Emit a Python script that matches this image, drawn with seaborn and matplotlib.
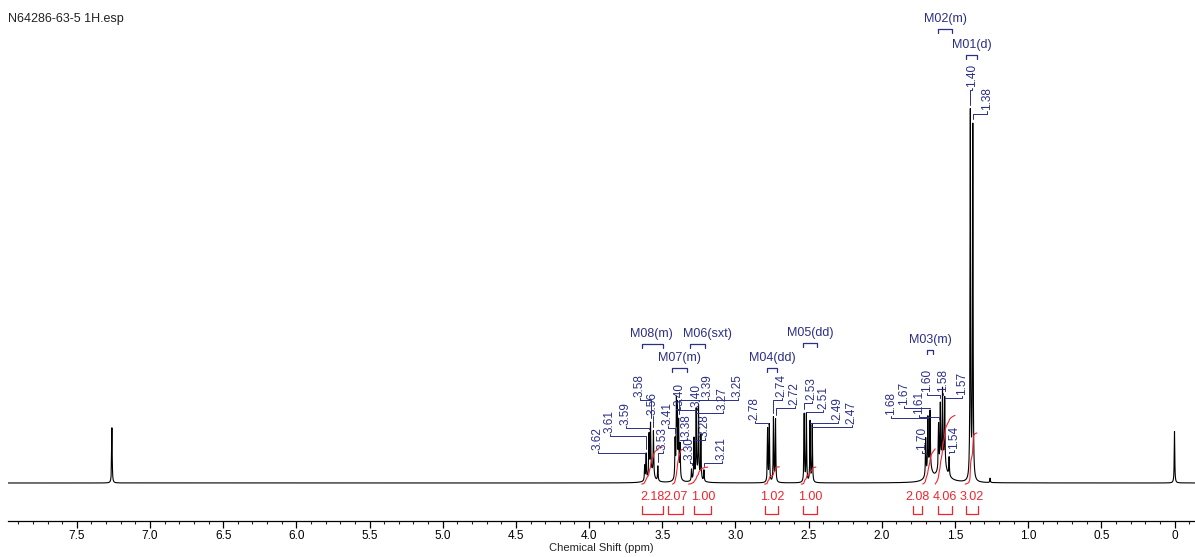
import numpy as np
import pandas as pd
import matplotlib.pyplot as plt
import seaborn as sns

sns.set_theme(style="white")
plt.rcParams["font.family"] = ["Liberation Sans", "DejaVu Sans"]

# peak list (ppm, relative height; tallest line = 100)
peak_ppm = [7.26,
            3.62, 3.61, 3.59, 3.58, 3.56, 3.53,
            3.412, 3.403, 3.397, 3.388, 3.378,
            3.30, 3.283, 3.268, 3.252, 3.236, 3.215,
            2.780, 2.768, 2.740, 2.726,
            2.530, 2.515, 2.490, 2.475,
            1.700, 1.685, 1.670, 1.612, 1.600, 1.585, 1.570, 1.540,
            1.395, 1.378, 1.26, 0.00]
peak_height = [15,
               4, 7, 11, 13, 12, 4,
               10, 19, 17, 14, 9,
               3, 11, 18, 19, 12, 3,
               14.5, 15.5, 17.5, 17,
               18.5, 18.5, 16.5, 15.5,
               10, 14, 15, 12, 16, 19, 18, 5,
               100, 96, 1.2, 14]
# broad underlying humps of the multiplets
hump_ppm = [3.575, 3.395, 3.26, 1.675, 1.585]
hump_height = [3, 2, 2, 4, 6]
hump_width = [0.02, 0.015, 0.02, 0.02, 0.03]

# peak picking labels
label_text = ["3.62", "3.61", "3.59", "3.58", "3.56", "3.53",
              "3.41", "3.40", "3.38", "3.30", "3.40", "3.39", "3.28", "3.27", "3.25", "3.21",
              "2.78", "2.74", "2.72", "2.53", "2.51", "2.49", "2.47",
              "1.68", "1.67", "1.61", "1.60", "1.58", "1.57", "1.70", "1.54",
              "1.40", "1.38"]
label_peak = [3.62, 3.61, 3.59, 3.58, 3.56, 3.53,
              3.412, 3.403, 3.378, 3.30, 3.397, 3.388, 3.283, 3.268, 3.252, 3.215,
              2.780, 2.740, 2.726, 2.530, 2.515, 2.490, 2.475,
              1.685, 1.670, 1.612, 1.600, 1.585, 1.570, 1.700, 1.540,
              1.395, 1.378]
# label layout (ppm of text, bottom of text in height units)
label_x = [3.941, 3.858, 3.749, 3.653, 3.565, 3.497,
           3.462, 3.380, 3.332, 3.312, 3.264, 3.189, 3.209, 3.086, 2.984, 3.093,
           2.868, 2.683, 2.594, 2.478, 2.402, 2.300, 2.204,
           1.938, 1.845, 1.745, 1.692, 1.582, 1.453, 1.726, 1.507,
           1.384, 1.282]
label_y = [9.0, 13.6, 15.8, 23.4, 18.5, 9.0,
           15.8, 20.9, 12.5, 6.3, 20.6, 23.4, 12.5, 19.8, 23.4, 6.3,
           17.1, 23.4, 21.2, 22.6, 20.1, 17.1, 16.0,
           18.5, 21.2, 18.7, 24.7, 24.7, 23.9, 9.0, 9.2,
           107.6, 101.3]

# multiplet annotations
mult_name = ["M02(m)", "M01(d)", "M08(m)", "M06(sxt)", "M07(m)", "M04(dd)", "M05(dd)", "M03(m)"]
mult_x = [1.568, 1.384, 3.571, 3.189, 3.380, 2.751, 2.491, 1.671]
mult_y = [126.1, 119.0, 40.5, 40.5, 34.0, 34.0, 40.8, 38.9]
mult_from = [1.616, 1.425, 3.640, 3.312, 3.435, 2.785, 2.539, 1.692]
mult_to = [1.521, 1.350, 3.497, 3.209, 3.332, 2.717, 2.443, 1.651]

# integrals
integ_value = [2.18, 2.07, 1.00, 1.02, 1.00, 2.08, 4.06, 3.02]
integ_from = [3.64, 3.43, 3.32, 2.80, 2.55, 1.72, 1.635, 1.43]
integ_to = [3.50, 3.355, 3.19, 2.70, 2.45, 1.635, 1.50, 1.35]
integ_label_x = [3.565, 3.407, 3.223, 2.751, 2.491, 1.753, 1.568, 1.384]
integ_half = [0.072, 0.051, 0.058, 0.045, 0.048, 0.031, 0.051, 0.038]

navy = "#2b2f86"
red = "#f0242c"

ppm = np.linspace(-0.14, 7.97, 40551)
w = 0.0022
spec = np.zeros_like(ppm)
for p, h in zip(peak_ppm, peak_height):
    spec += h * w**2 / ((ppm - p) ** 2 + w**2)
for p, h, hw in zip(hump_ppm, hump_height, hump_width):
    spec += h * hw**2 / ((ppm - p) ** 2 + hw**2)
df = pd.DataFrame({"ppm": ppm, "intensity": spec})

fig = plt.figure(figsize=(11.95, 5.57), dpi=100)
ax = fig.add_axes([8 / 1195, 36 / 557, 1187 / 1195, 521 / 557])
sns.lineplot(data=df, x="ppm", y="intensity", estimator=None, sort=False,
             color="black", lw=0.8, ax=ax)

ax.set_xlim(7.97, -0.14)
ax.set_ylim(-10.33, 131.25)


def spec_at(p):
    return np.interp(p, ppm, spec)


# peak labels with leader lines
for t, p, lx, ly in zip(label_text, label_peak, label_x, label_y):
    ax.text(lx, ly, t, rotation=90, ha="center", va="bottom", fontsize=8.5, color=navy)
    elbow = ly - 0.9
    top = spec_at(p) + 1.0
    xs = [lx, lx, p]
    ys = [ly - 0.2, elbow, elbow]
    if top < elbow:
        xs.append(p)
        ys.append(top)
    ax.plot(xs, ys, color=navy, lw=0.7)

# multiplet labels
for name, x, y, a, b in zip(mult_name, mult_x, mult_y, mult_from, mult_to):
    ax.text(x, y, name, ha="center", va="center", fontsize=9, color=navy)
    by = y - 2.7
    ax.plot([a, a, b, b], [by - 1.1, by, by, by - 1.1], color=navy, lw=0.9)

# integral curves, values and brackets
for v, a, b, lx, hw in zip(integ_value, integ_from, integ_to, integ_label_x, integ_half):
    m = (ppm <= a) & (ppm >= b)
    xs = ppm[m][::-1]
    cum = np.cumsum(spec[m][::-1])
    cum = cum / cum[-1]
    ax.plot(xs, -0.3 + cum * v * 4.6, color=red, lw=0.8)
    ax.text(lx, -3.9, f"{v:.2f}", ha="center", va="center", fontsize=9, color=red)
    ax.plot([lx + hw, lx + hw, lx - hw, lx - hw], [-6.3, -8.4, -8.4, -6.3], color=red, lw=0.9)

sns.despine(ax=ax, left=True, top=True, right=True)
ax.spines["bottom"].set_color("black")
ax.spines["bottom"].set_linewidth(0.9)
ax.set_yticks([])
ax.set_ylabel("")
major = np.arange(0, 7.51, 0.5)
ax.set_xticks(major)
ax.set_xticklabels(["0" if v == 0 else f"{v:.1f}" for v in major])
ax.set_xticks(np.arange(-0.1, 7.95, 0.1), minor=True)
ax.tick_params(axis="x", which="major", direction="out", length=5, width=0.9,
               labelsize=8.5, pad=1.5, bottom=True, colors="black")
ax.tick_params(axis="x", which="minor", direction="out", length=2.5, width=0.8, bottom=True)
ax.set_xlabel("Chemical Shift (ppm)", fontsize=8, labelpad=1)

fig.text(8 / 1195, 1 - 19 / 557, "N64286-63-5 1H.esp", fontsize=9, va="center", color="#222222")

fig.savefig("out.png", dpi=100)
